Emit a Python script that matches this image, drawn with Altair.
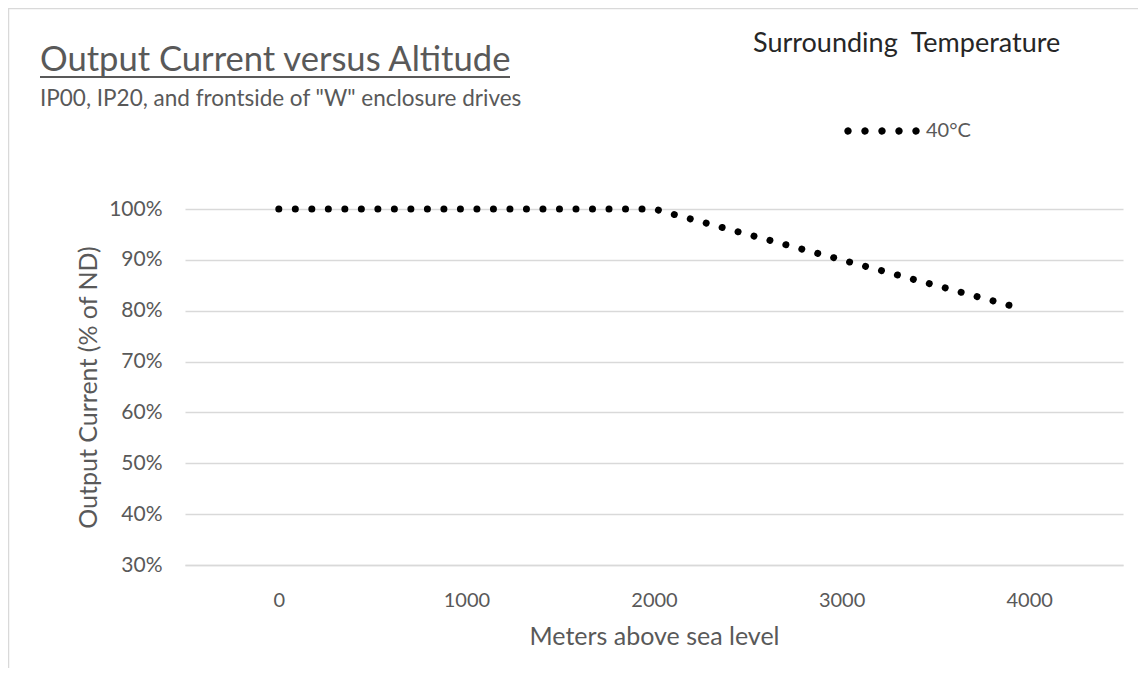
import altair as alt
import pandas as pd

FONT = "Lato"
GREY = "#595959"

# ---- data ----
altitude = [0, 2000, 3900]
current = [100, 100, 81]
series = ["40°C", "40°C", "40°C"]
x_ticks = [0, 1000, 2000, 3000, 4000]
y_ticks = [30, 40, 50, 60, 70, 80, 90, 100]

title_text = ["Output Current versus Altitude"]
subtitle_text = ['IP00, IP20, and frontside of "W" enclosure drives']
legend_header = ["Surrounding\u00a0\u00a0Temperature"]

df = pd.DataFrame({"altitude": altitude, "current": current, "series": series})

# legend symbol: five round dots
r = 0.085
dots = ""
for cx in [-1, -0.5, 0, 0.5, 1]:
    dots += f"M{cx - r},0A{r},{r} 0 1,0 {cx + r},0A{r},{r} 0 1,0 {cx - r},0Z"

line = alt.Chart(df).mark_line(
    strokeDash=[0.01, 16.5], strokeCap="round", strokeWidth=7
).encode(
    x=alt.X(
        "altitude:Q",
        scale=alt.Scale(domain=[-500, 4500], nice=False, zero=False),
        axis=alt.Axis(
            values=x_ticks, format="d", title="Meters above sea level", grid=False, ticks=False,
            domain=True, domainColor="#d9d9d9", domainWidth=1.5,
            labelFont=FONT, labelFontSize=20, labelColor=GREY,
            labelBaseline="middle", labelPadding=35,
            titleFont=FONT, titleFontSize=25, titleColor=GREY, titleFontWeight="normal",
            titleY=71, titleBaseline="middle",
        ),
    ),
    y=alt.Y(
        "current:Q",
        scale=alt.Scale(domain=[30, 100], nice=False, zero=False),
        axis=alt.Axis(
            values=y_ticks, labelExpr="datum.value + '%'",
            title="Output Current (% of ND)", grid=True, gridColor="#d9d9d9", gridWidth=1.5,
            ticks=False, domain=False,
            labelFont=FONT, labelFontSize=21, labelColor=GREY, labelPadding=23,
            titleFont=FONT, titleFontSize=25, titleColor=GREY, titleFontWeight="normal",
            titleX=-97, titleY=178, titleBaseline="middle", titleAlign="center", titleAngle=270,
        ),
    ),
    color=alt.Color(
        "series:N",
        scale=alt.Scale(range=["#000000"]),
        legend=alt.Legend(
            title=None, orient="none", legendX=662, legendY=-113, padding=0,
            symbolType=dots, symbolSize=4624, symbolFillColor="#000000",
            symbolStrokeColor="#000000", symbolStrokeWidth=1.6, symbolDash=[1, 0],
            symbolOffset=0,
            labelFont=FONT, labelFontSize=20, labelColor=GREY, labelOffset=9,
        ),
    ),
)


def text_layer(values, x, y, size, color, weight="normal"):
    d = pd.DataFrame({"t": values})
    return alt.Chart(d).mark_text(
        align="left", baseline="alphabetic", font=FONT, fontSize=size,
        color=color, fontWeight=weight,
    ).encode(x=alt.value(x), y=alt.value(y), text="t:N")


title = text_layer(title_text, -145, -138, 34.6, GREY)
underline = alt.Chart(pd.DataFrame({"t": title_text})).mark_rule(
    color=GREY, strokeWidth=2
).encode(x=alt.value(-145), x2=alt.value(325), y=alt.value(-132))
subtitle = text_layer(subtitle_text, -145, -103, 22.5, GREY)
header = text_layer(legend_header, 568, -157, 27, "#262626")

border_left = alt.Chart(pd.DataFrame({"t": title_text})).mark_rule(
    color="#d9d9d9", strokeWidth=1.5
).encode(x=alt.value(-176.5), y=alt.value(-201), y2=alt.value(460))
border_top = alt.Chart(pd.DataFrame({"t": title_text})).mark_rule(
    color="#d9d9d9", strokeWidth=1.5
).encode(x=alt.value(-177), x2=alt.value(960), y=alt.value(-200.5))

chart = alt.layer(
    border_left, border_top, line, title, underline, subtitle, header
).properties(
    width=938, height=356,
    padding={"left": 177, "top": 201, "right": 15, "bottom": 103},
    autosize=alt.AutoSizeParams(type="none"),
    background="white",
).configure_view(stroke=None)

chart.save("out.html", embed_options={"renderer": "svg", "actions": False})
